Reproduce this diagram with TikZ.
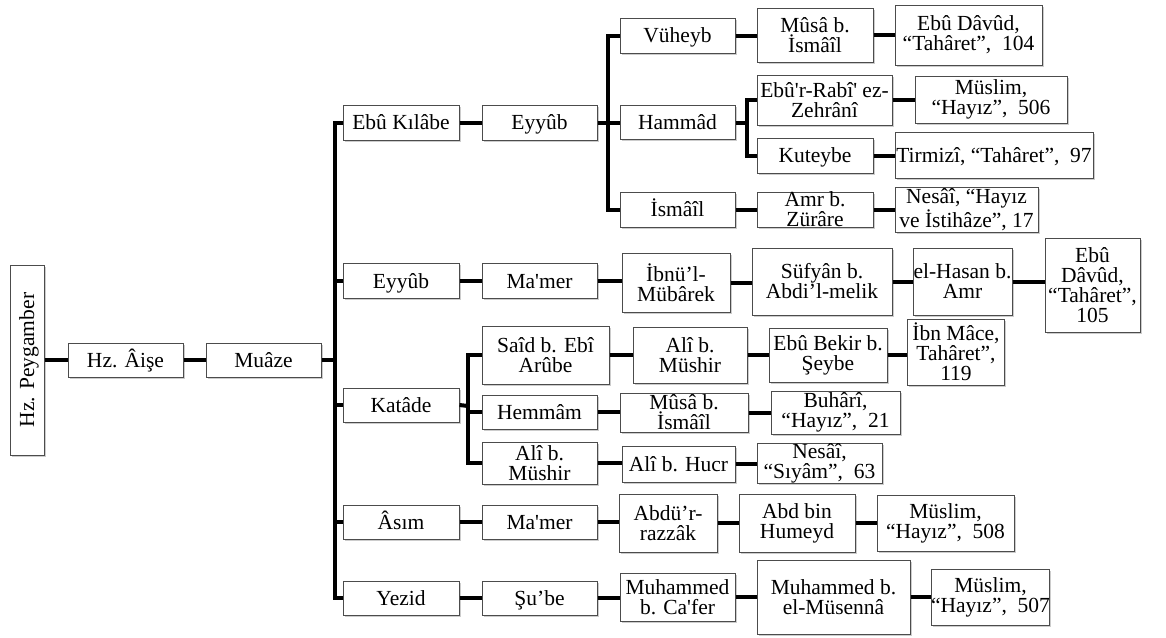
\documentclass[tikz,border=0pt]{standalone}
\usepackage{fontspec}
\setmainfont{Liberation Serif}
\usetikzlibrary{shadows}
\newcommand{\sq}{\textquotesingle}
\begin{document}
\begin{tikzpicture}[x=1pt,y=-1pt,
  bx/.style 2 args={draw=black!70, line width=1pt, fill=white,
    minimum width=#1pt, minimum height=#2pt, inner xsep=0pt, inner ysep=-15pt,
    align=center, font=\fontsize{21.5}{20}\selectfont,
    drop shadow={shadow xshift=1.5pt, shadow yshift=-1.5pt, fill=black!40, opacity=0.5}},
  one/.style={text height=18pt, text depth=4pt},
  conn/.style={line width=4pt, draw=black}]
\useasboundingbox (0,0) rectangle (1166,637);

% level 0-2
\node[bx={190}{34}, one, rotate=90] (peyg) at (27,360) {Hz. Peygamber};
\node[bx={115}{34}, one] (aise) at (125.5,360) {Hz. Âişe};
\node[bx={115}{34}, one] (muaze) at (263.5,360) {Muâze};

% Ebu Kilabe branch
\node[bx={116}{35}, one] (kilabe) at (401,122.5) {Ebû Kılâbe};
\node[bx={115}{35}, one] (eyyubA) at (539.5,122.5) {Eyyûb};
\node[bx={115}{35}, one] (vuheyb) at (677.5,35.5) {Vüheyb};
\node[bx={116}{54}] (musaA) at (815,35) {Mûsâ b.\\İsmâîl};
\node[bx={147}{60}] (ebudavudA) at (968.5,35) {Ebû Dâvûd,\\“Tahâret”,~ 104};
\node[bx={115}{34}, one] (hammad) at (677.5,122.5) {Hammâd};
\node[bx={135}{50}] (rabi) at (824.5,100) {Ebû\sq r-Rabî\sq{} ez-\\Zehrânî};
\node[bx={152}{47}] (muslimA) at (991,99.5) {Müslim,\\“Hayız”,~ 506};
\node[bx={116}{35}, one] (kuteybe) at (815,155.5) {Kuteybe};
\node[bx={198}{46}, one] (tirmizi) at (994,155) {Tirmizî, “Tahâret”,~ 97};
\node[bx={115}{35}, one] (ismail) at (677.5,209.5) {İsmâîl};
\node[bx={116}{35}] (amr) at (815,209.5) {Amr b.\\Zürâre};
\node[bx={143}{45}] (nesaiA) at (966.5,209.5) {Nesâî, “Hayız\\ve İstihâze”, 17};

% Eyyub branch
\node[bx={116}{35}, one] (eyyubB) at (401,281) {Eyyûb};
\node[bx={115}{35}, one] (mamerA) at (539.5,281) {Ma\sq mer};
\node[bx={108}{59}] (ibnul) at (676,282.5) {İbnü’l-\\Mübârek};
\node[bx={140}{67}] (sufyan) at (822,281.5) {Süfyân b.\\Abdi’l-melik};
\node[bx={99}{67}] (hasan) at (962.5,281.5) {el-Hasan b.\\Amr};
\node[bx={95}{94}] (ebudavudB) at (1092.5,285) {Ebû\\Dâvûd,\\“Tahâret”,\\105};

% Katade branch
\node[bx={116}{34}, one] (katade) at (401,405) {Katâde};
\node[bx={127}{58}] (said) at (545.5,355) {Saîd b. Ebî\\Arûbe};
\node[bx={115}{34}, one] (hemmam) at (539.5,412) {Hemmâm};
\node[bx={115}{42}] (aliA) at (539.5,463) {Alî b.\\Müshir};
\node[bx={114}{56}] (aliB) at (690,355) {Alî b.\\Müshir};
\node[bx={118}{54}] (ebubekir) at (828,355) {Ebû Bekir b.\\Şeybe};
\node[bx={97}{66}] (ibnmace) at (956,352) {İbn Mâce,\\Tahâret”,\\119};
\node[bx={128}{39}] (musaB) at (684,412.5) {Mûsâ b.\\İsmâîl};
\node[bx={129}{43}] (buhari) at (835.5,412.5) {Buhârî,\\“Hayız”,~ 21};
\node[bx={113}{36}, one] (hucr) at (678.5,464) {Alî b. Hucr};
\node[bx={125}{40}] (nesaiB) at (819.5,463) {Nesâî,\\“Sıyâm”,~ 63};

% Asim branch
\node[bx={116}{34}, one] (asim) at (401,522) {Âsım};
\node[bx={115}{34}, one] (mamerB) at (539.5,522) {Ma\sq mer};
\node[bx={98}{58}] (abdur) at (668,523) {Abdü’r-\\razzâk};
\node[bx={116}{58}] (humeyd) at (797,523) {Abd bin\\Humeyd};
\node[bx={137}{56}] (muslimB) at (945.5,523) {Müslim,\\“Hayız”,~ 508};

% Yezid branch
\node[bx={116}{34}, one] (yezid) at (401,598) {Yezid};
\node[bx={115}{34}, one] (sube) at (539.5,598) {Şu’be};
\node[bx={115}{48}] (cafer) at (677.5,597) {Muhammed\\b. Ca\sq fer};
\node[bx={153}{74}] (musenna) at (833.5,597) {Muhammed b.\\el-Müsennâ};
\node[bx={115}{56}] (muslimC) at (990.5,597) {Müslim,\\“Hayız”,~ 507};

% connectors
\coordinate (tr) at (335,360);
\coordinate (b1) at (608,122.5);
\coordinate (b2) at (747,122.5);
\coordinate (b3) at (468,406);

\draw[conn] (peyg.south) -- (aise.west);
\draw[conn] (aise.east) -- (muaze.west);
\draw[conn] (muaze.east) -- (tr);
\draw[conn] (kilabe.west) -| (tr) |- (yezid.west);
\foreach \n in {eyyubB,katade,asim} \draw[conn] (tr |- \n.west) -- (\n.west);

\draw[conn] (kilabe.east) -- (eyyubA.west);
\draw[conn] (eyyubA.east) -- (hammad.west);
\draw[conn] (vuheyb.west) -| (b1) |- (ismail.west);
\draw[conn] (vuheyb.east) -- (vuheyb.east -| musaA.west);
\draw[conn] (musaA.east) -- (musaA.east -| ebudavudA.west);
\draw[conn] (hammad.east) -- (b2);
\draw[conn] (rabi.west) -| (b2) |- (kuteybe.west);
\draw[conn] (rabi.east) -- (rabi.east -| muslimA.west);
\draw[conn] (kuteybe.east) -- (kuteybe.east -| tirmizi.west);
\draw[conn] (ismail.east) -- (ismail.east -| amr.west);
\draw[conn] (amr.east) -- (amr.east -| nesaiA.west);

\draw[conn] (eyyubB.east) -- (eyyubB.east -| mamerA.west);
\draw[conn] (mamerA.east) -- (mamerA.east -| ibnul.west);
\draw[conn] (ibnul.east) -- (ibnul.east -| sufyan.west);
\draw[conn] (sufyan.east) -- (sufyan.east -| hasan.west);
\draw[conn] (hasan.east) -- (hasan.east -| ebudavudB.west);

\draw[conn] (katade.east) -- (b3);
\draw[conn] (said.west) -| (b3) |- (aliA.west);
\draw[conn] (b3 |- hemmam.west) -- (hemmam.west);
\draw[conn] (said.east) -- (said.east -| aliB.west);
\draw[conn] (aliB.east) -- (aliB.east -| ebubekir.west);
\draw[conn] (ebubekir.east) -- (ebubekir.east -| ibnmace.west);
\draw[conn] (hemmam.east) -- (hemmam.east -| musaB.west);
\draw[conn] (musaB.east) -- (musaB.east -| buhari.west);
\draw[conn] (aliA.east) -- (aliA.east -| hucr.west);
\draw[conn] (hucr.east) -- (hucr.east -| nesaiB.west);

\draw[conn] (asim.east) -- (asim.east -| mamerB.west);
\draw[conn] (mamerB.east) -- (mamerB.east -| abdur.west);
\draw[conn] (abdur.east) -- (abdur.east -| humeyd.west);
\draw[conn] (humeyd.east) -- (humeyd.east -| muslimB.west);

\draw[conn] (yezid.east) -- (yezid.east -| sube.west);
\draw[conn] (sube.east) -- (sube.east -| cafer.west);
\draw[conn] (cafer.east) -- (cafer.east -| musenna.west);
\draw[conn] (musenna.east) -- (musenna.east -| muslimC.west);
\end{tikzpicture}
\end{document}
